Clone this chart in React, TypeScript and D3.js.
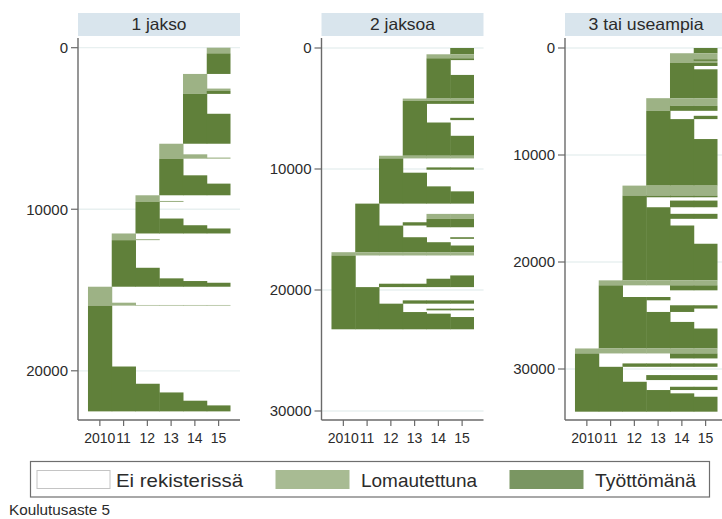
import React from "react";
import * as d3 from "d3";

// ---------- data ----------
const YEARS = [2010, 2011, 2012, 2013, 2014, 2015];
const YEAR_LABELS = ["2010", "11", "12", "13", "14", "15"];
const PANEL_TITLES = ["1 jakso", "2 jaksoa", "3 tai useampia"];
const STATE_LABELS = ["Ei rekisterissä", "Lomautettuna", "Työttömänä"];
const CAPTION = "Koulutusaste 5";

const Y_TICKS_1 = [0, 10000, 20000];
const Y_TICKS_2 = [0, 10000, 20000, 30000];
const Y_TICKS_3 = [0, 10000, 20000, 30000];

const Y_DOMAIN_1 = [-662, 23046];
const Y_DOMAIN_2 = [-909, 30744];
const Y_DOMAIN_3 = [-1028, 34766];
const X_DOMAIN = [2009.08, 2015.9];

// runs of identical sequences: [number of persons, state per year 2010..2015]
// 0 = Ei rekisterissä, 1 = Lomautettuna, 2 = Työttömänä
const RUNS_1: [number, string][] = [
  [350, "000001"], [1275, "000002"],
  [905, "000010"], [150, "000011"], [180, "000012"], [1230, "000020"], [1855, "000022"],
  [655, "000100"], [200, "000110"], [70, "000111"], [1030, "000200"], [514, "000220"], [722, "000222"],
  [350, "001000"], [64, "001100"], [1025, "002000"], [415, "002200"], [200, "002220"], [310, "002222"],
  [350, "010000"], [64, "011000"], [1709, "020000"], [655, "022000"], [166, "022200"], [106, "022220"], [246, "022222"],
  [988, "100000"], [142, "110000"], [40, "111111"], [3769, "200000"], [1067, "220000"], [538, "222000"],
  [512, "222200"], [290, "222220"], [370, "222222"],
];

const RUNS_2: [number, string][] = [
  [520, "000002"], [330, "000011"], [150, "000022"], [1226, "000020"], [1954, "000022"],
  [190, "000111"], [247, "000222"], [1154, "000200"], [189, "000202"], [198, "000200"], [1097, "000220"], [1649, "000222"],
  [222, "001111"], [742, "002000"], [190, "002022"], [247, "002000"], [1130, "002200"], [412, "002220"], [1014, "002222"],
  [849, "020000"], [412, "020011"], [280, "020022"], [272, "020222"], [141, "022022"], [824, "022000"], [132, "022202"],
  [280, "022200"], [272, "022220"], [553, "022222"],
  [272, "111111"], [1648, "200000"], [273, "200002"], [412, "200022"], [280, "202222"], [1096, "220000"], [273, "220222"],
  [412, "222000"], [140, "222022"], [140, "222000"], [132, "222200"], [280, "222220"], [1014, "222222"],
];

const RUNS_3: [number, string][] = [
  [490, "000002"], [560, "000011"], [160, "000012"], [160, "000011"], [310, "000022"], [310, "000020"], [2700, "000022"],
  [715, "000111"], [466, "000122"], [466, "000200"], [308, "000202"], [1864, "000220"], [4352, "000222"],
  [932, "001111"], [158, "002222"], [308, "002000"], [624, "002022"], [615, "002200"], [466, "002222"], [625, "002200"],
  [1705, "002220"], [3421, "002222"],
  [466, "011111"], [466, "020022"], [624, "020000"], [308, "022200"], [466, "022000"], [307, "022022"], [317, "022020"],
  [932, "022200"], [615, "022220"], [1864, "022222"],
  [466, "111111"], [466, "200022"], [466, "200000"], [317, "202222"], [773, "220000"], [466, "220222"], [159, "220000"],
  [466, "222000"], [307, "222022"], [308, "222200"], [317, "222220"], [1398, "222222"],
];

// ---------- styles ----------
const FILLS = ["none", "#9db285", "#60803a"];
const LEGEND_FILLS = ["#ffffff", "#a8bb93", "#7a9662"];
const FONT = "'Liberation Sans', Arial, Helvetica, sans-serif";
const TEXT = "#2b2b2b";

const PANEL_X0 = [78, 321.5, 565];
const PANEL_W = 162;
const PLOT_TOP = 37;
const PLOT_BOTTOM = 420;
const TITLE_WIDTHS = [55, 65, 115];

type PanelProps = {
  x0: number;
  title: string;
  titleWidth: number;
  runs: [number, string][];
  ticks: number[];
  domain: number[];
};

function Panel({ x0, title, titleWidth, runs, ticks, domain }: PanelProps) {
  const x = d3.scaleLinear().domain(X_DOMAIN).range([x0, x0 + PANEL_W]);
  const y = d3.scaleLinear().domain(domain).range([PLOT_TOP, PLOT_BOTTOM]);

  // merge consecutive identical states per year column
  const segs: { yr: number; s: number; a: number; b: number }[] = [];
  YEARS.forEach((yr, j) => {
    let idx = 0;
    let cur = -1;
    let curStart = 0;
    runs.forEach(([n, seq]) => {
      const s = +seq[j];
      if (s !== cur) {
        if (cur > 0) segs.push({ yr, s: cur, a: curStart, b: idx });
        cur = s;
        curStart = idx;
      }
      idx += n;
    });
    if (cur > 0) segs.push({ yr, s: cur, a: curStart, b: idx });
  });

  return (
    <g>
      {/* header strip */}
      <rect x={x0} y={13} width={PANEL_W} height={23} fill="#d9e5ed" />
      <text
        x={x0 + PANEL_W / 2}
        y={30}
        textAnchor="middle"
        fontFamily={FONT}
        fontSize={16.5}
        fill={TEXT}
        textLength={titleWidth}
        lengthAdjust="spacingAndGlyphs"
      >
        {title}
      </text>
      {/* grid */}
      {ticks.map((t) => (
        <line
          key={"g" + t}
          x1={x0}
          x2={x0 + PANEL_W}
          y1={y(t)}
          y2={y(t)}
          stroke="#e8f0f0"
          strokeWidth={1.3}
        />
      ))}
      {/* sequences */}
      {segs.map((d, i) => {
        const xa = x(d.yr - 0.5);
        const xb = x(d.yr + 0.5);
        return (
          <rect
            key={i}
            x={xa}
            y={y(d.a)}
            width={xb - xa + (d.yr < 2015 ? 0.5 : 0)}
            height={y(d.b) - y(d.a)}
            fill={FILLS[d.s]}
          />
        );
      })}
      {/* y axis */}
      <line x1={x0} x2={x0} y1={PLOT_TOP + 1} y2={PLOT_BOTTOM} stroke="#6a6a6a" strokeWidth={1.4} />
      {ticks.map((t) => (
        <g key={"y" + t}>
          <line x1={x0 - 7} x2={x0} y1={y(t)} y2={y(t)} stroke="#6a6a6a" strokeWidth={1.2} />
          <text
            x={x0 - 10}
            y={y(t)}
            dy="0.36em"
            textAnchor="end"
            fontFamily={FONT}
            fontSize={15}
            fill={TEXT}
          >
            {t}
          </text>
        </g>
      ))}
      {/* x axis */}
      <line x1={x0} x2={x0 + PANEL_W} y1={PLOT_BOTTOM} y2={PLOT_BOTTOM} stroke="#6a6a6a" strokeWidth={1.4} />
      {YEARS.map((yr, j) => (
        <g key={"x" + yr}>
          <line x1={x(yr)} x2={x(yr)} y1={PLOT_BOTTOM} y2={PLOT_BOTTOM + 6} stroke="#6a6a6a" strokeWidth={1.2} />
          <text
            x={x(yr)}
            y={443}
            textAnchor="middle"
            fontFamily={FONT}
            fontSize={14}
            fill={TEXT}
          >
            {YEAR_LABELS[j]}
          </text>
        </g>
      ))}
    </g>
  );
}

const LEGEND_SWATCH_X = [37, 276, 510];
const LEGEND_TEXT_X = [116, 361, 595];
const LEGEND_TEXT_W = [127, 116, 101];

export default function App() {
  React.useEffect(() => {
    document.body.style.margin = "0";
  }, []);
  const panels = [
    { runs: RUNS_1, ticks: Y_TICKS_1, domain: Y_DOMAIN_1 },
    { runs: RUNS_2, ticks: Y_TICKS_2, domain: Y_DOMAIN_2 },
    { runs: RUNS_3, ticks: Y_TICKS_3, domain: Y_DOMAIN_3 },
  ];
  return (
    <div style={{ width: 722, height: 519, overflow: "hidden" }}>
      <style>{`body{margin:0}`}</style>
      <svg width={722} height={519} style={{ display: "block", background: "#ffffff" }}>
        <rect x={0} y={0} width={722} height={519} fill="#ffffff" />
        {panels.map((p, i) => (
          <Panel
            key={i}
            x0={PANEL_X0[i]}
            title={PANEL_TITLES[i]}
            titleWidth={TITLE_WIDTHS[i]}
            runs={p.runs}
            ticks={p.ticks}
            domain={p.domain}
          />
        ))}
        {/* legend */}
        <rect x={30.5} y={461.5} width={679} height={35.5} fill="#ffffff" stroke="#6e6e6e" strokeWidth={1.2} />
        {STATE_LABELS.map((lab, i) => (
          <g key={lab}>
            <rect
              x={LEGEND_SWATCH_X[i]}
              y={470.5}
              width={73}
              height={18}
              fill={LEGEND_FILLS[i]}
              stroke={i === 0 ? "#c4c4c4" : LEGEND_FILLS[i]}
              strokeWidth={1}
            />
            <text
              x={LEGEND_TEXT_X[i]}
              y={486.5}
              fontFamily={FONT}
              fontSize={18.5}
              fill={TEXT}
              textLength={LEGEND_TEXT_W[i]}
              lengthAdjust="spacingAndGlyphs"
            >
              {lab}
            </text>
          </g>
        ))}
        <text
          x={9}
          y={515}
          fontFamily={FONT}
          fontSize={14.5}
          fill={TEXT}
          textLength={101}
          lengthAdjust="spacingAndGlyphs"
        >
          {CAPTION}
        </text>
      </svg>
    </div>
  );
}
